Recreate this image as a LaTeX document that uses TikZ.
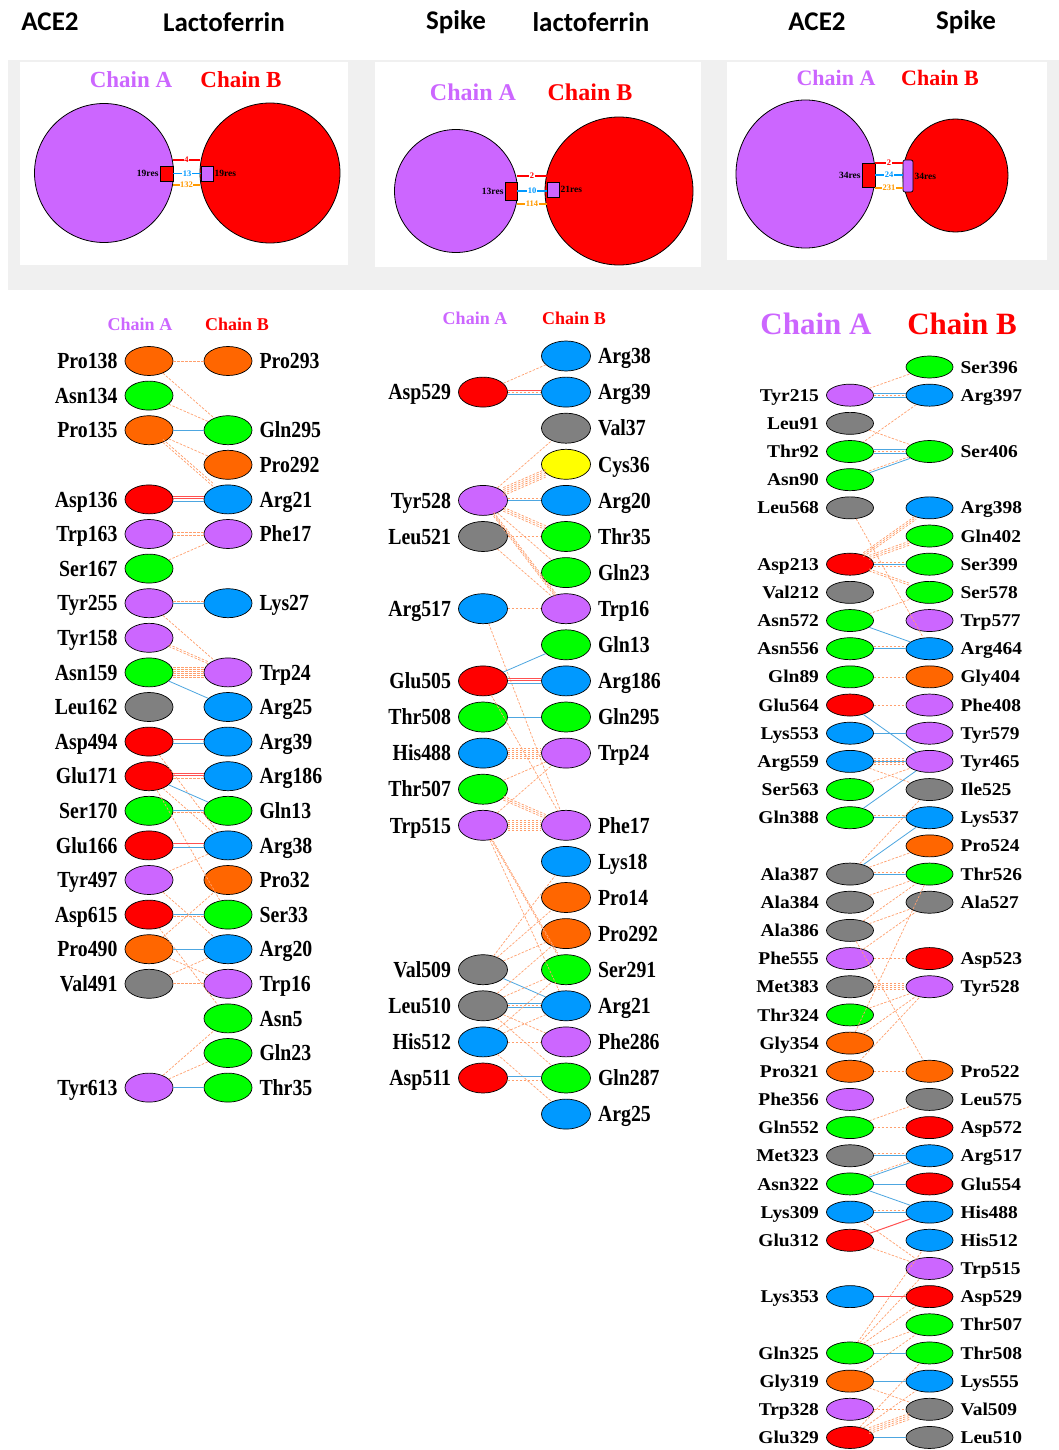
\documentclass[tikz,border=0pt]{standalone}
\usepackage{fontspec}
\setmainfont{Liberation Serif}
\newfontfamily\hdfont{Carlito}
\newfontfamily\labA[FakeStretch=0.86]{Liberation Serif}
\newfontfamily\labC[FakeStretch=1.08]{Liberation Serif}
\usetikzlibrary{shapes.geometric}

\definecolor{rpur}{HTML}{CC66FF}
\definecolor{rorg}{HTML}{FF6600}
\definecolor{rgrn}{HTML}{00FF00}
\definecolor{rblu}{HTML}{0099FF}
\definecolor{rred}{HTML}{FF0000}
\definecolor{rgry}{HTML}{808080}
\definecolor{ryel}{HTML}{FFFF00}
\definecolor{lnb}{HTML}{FFA06E}
\definecolor{lhb}{HTML}{4DA6E0}
\definecolor{lsb}{HTML}{FF5050}
\definecolor{bandgray}{HTML}{F0F0F0}
\definecolor{lorg}{HTML}{FF9900}

\tikzset{
  ea/.style={ellipse, draw=black, line width=0.7pt, minimum width=48pt, minimum height=29pt, inner sep=0pt},
  eb/.style={ellipse, draw=black, line width=0.7pt, minimum width=49pt, minimum height=30pt, inner sep=0pt},
  ec/.style={ellipse, draw=black, line width=0.7pt, minimum width=47pt, minimum height=22pt, inner sep=0pt},
  ta/.style={font=\labA\bfseries\fontsize{23}{23}\selectfont, inner sep=0pt, text height=15.5pt, text depth=0pt},
  tc/.style={font=\labC\bfseries\fontsize{18}{18}\selectfont, inner sep=0pt, text height=12.2pt, text depth=0pt},
  nbl/.style={draw=lnb, dashed, dash pattern=on 2.5pt off 1.5pt, line width=0.7pt},
  hbl/.style={draw=lhb, line width=0.8pt},
  sbl/.style={draw=lsb, line width=1pt},
  hdr/.style={font=\hdfont\bfseries\fontsize{27}{27}\selectfont, inner sep=0pt},
  chA/.style={text=rpur, inner sep=0pt, font=\bfseries\fontsize{#1}{#1}\selectfont},
  chB/.style={text=rred, inner sep=0pt, font=\bfseries\fontsize{#1}{#1}\selectfont},
  big/.style={draw=black, line width=0.8pt, inner sep=0pt},
  patch/.style={draw=black, line width=0.7pt, inner sep=0pt},
  restx/.style={font=\bfseries\fontsize{9.5}{9.5}\selectfont, inner sep=1pt, text=black},
  cnt/.style={font=\bfseries\fontsize{8.5}{8.5}\selectfont, inner sep=0.5pt, fill=white},
}

% residues of the three contact maps: name, row, fill
\newcommand\resAL[3]{\node[ea,fill=#3] (a-#1) at (149,{361+34.6*#2}) {};\node[ta,anchor=east] (a-#1-t) at ([xshift=-7pt]a-#1.west) {#1};}
\newcommand\resAR[3]{\node[ea,fill=#3] (a-#1) at (228,{361+34.6*#2}) {};\node[ta,anchor=west] (a-#1-t) at ([xshift=7pt]a-#1.east) {#1};}
\newcommand\resBL[3]{\node[eb,fill=#3] (b-#1) at (483,{356+36.1*#2}) {};\node[ta,anchor=east] (b-#1-t) at ([xshift=-7pt]b-#1.west) {#1};}
\newcommand\resBR[3]{\node[eb,fill=#3] (b-#1) at (566,{356+36.1*#2}) {};\node[ta,anchor=west] (b-#1-t) at ([xshift=7pt]b-#1.east) {#1};}
\newcommand\resCL[3]{\node[ec,fill=#3] (c-#1) at (850,{367+28.17*#2}) {};\node[tc,anchor=east] (c-#1-t) at ([xshift=-7pt]c-#1.west) {#1};}
\newcommand\resCR[3]{\node[ec,fill=#3] (c-#1) at (929.5,{367+28.17*#2}) {};\node[tc,anchor=west] (c-#1-t) at ([xshift=7pt]c-#1.east) {#1};}

% contacts: non-bonded, hydrogen bond, salt bridge, and parallel bundles
\newcommand\cnb[2]{\draw[nbl] (#1) -- (#2);}
\newcommand\chb[2]{\draw[hbl] (#1) -- (#2);}
\newcommand\csb[2]{\draw[sbl] (#1) -- (#2);}
\newcommand\cmany[4]{\foreach \sh in {#4}{\draw[#1,transform canvas={yshift=\sh pt}] (#2) -- (#3);}}

\begin{document}
\begin{tikzpicture}[x=1pt,y=-1pt]
\useasboundingbox (0,0) rectangle (1059,1450);
\fill[white] (0,0) rectangle (1059,1450);

% ---- titles
\node[hdr] (h1) at (50,22) {ACE2};
\node[hdr] (h2) at (224,22) {Lactoferrin};
\node[hdr] (h3) at (456,22) {Spike};
\node[hdr] (h4) at (591,22) {lactoferrin};
\node[hdr] (h5) at (817,22) {ACE2};
\node[hdr] (h6) at (966,22) {Spike};

% ---- interface summary panels
\fill[bandgray] (8,60) rectangle (1059,290);
\fill[white] (20,62) rectangle (348,265);
\fill[white] (375,62) rectangle (701,267);
\fill[white] (727,62) rectangle (1047,260);

% panel 1
\node[chA=23] (p1hA) at (131,80) {Chain A};
\node[chB=23] (p1hB) at (241,80) {Chain B};
\node[big,circle,fill=rpur,minimum size=139pt] (p1A) at (104,173) {};
\node[big,circle,fill=rred,minimum size=140pt] (p1B) at (270,173) {};
\node[patch,fill=rred,minimum width=13pt,minimum height=15pt] (p1a) at (166.5,173.5) {};
\node[patch,fill=rpur,minimum width=12pt,minimum height=15pt] (p1b) at (207,173.5) {};
\node[restx,anchor=east] (p1at) at (p1a.west) {19res};
\node[restx,anchor=west] (p1bt) at (p1b.east) {19res};
\draw[rred,line width=1.1pt] (173,160) -- node[cnt,text=rred] (p1n1) {4} (200,160);
\draw[rblu,line width=1.1pt] (p1a.east) -- node[cnt,text=rblu] (p1n2) {13} (p1b.west);
\draw[lorg,line width=1.1pt] (173,185) -- node[cnt,text=lorg] (p1n3) {132} (200,185);

% panel 2
\node[chA=24] (p2hA) at (473,92) {Chain A};
\node[chB=24] (p2hB) at (590,92) {Chain B};
\node[big,circle,fill=rpur,minimum size=123pt] (p2A) at (456,191) {};
\node[big,circle,fill=rred,minimum size=148pt] (p2B) at (619,191) {};
\node[patch,fill=rred,minimum width=12pt,minimum height=18pt] (p2a) at (511,191) {};
\node[patch,fill=rpur,minimum width=12pt,minimum height=15pt] (p2b) at (553,189.5) {};
\node[restx,anchor=east] (p2at) at (p2a.west) {13res};
\node[restx,anchor=west] (p2bt) at (p2b.east) {21res};
\draw[rred,line width=1.1pt] (517,176) -- node[cnt,text=rred] (p2n1) {2} (547,176);
\draw[rblu,line width=1.1pt] (517,191) -- node[cnt,text=rblu] (p2n2) {10} (547,191);
\draw[lorg,line width=1.1pt] (517,204) -- node[cnt,text=lorg] (p2n3) {114} (547,204);

% panel 3
\node[chA=22] (p3hA) at (836,78) {Chain A};
\node[chB=22] (p3hB) at (940,78) {Chain B};
\node[big,ellipse,fill=rpur,minimum width=139pt,minimum height=148pt] (p3A) at (805.5,174) {};
\node[big,ellipse,fill=rred,minimum width=105pt,minimum height=113pt] (p3B) at (955.5,175.5) {};
\node[patch,fill=rred,minimum width=13pt,minimum height=24pt] (p3a) at (868.5,175) {};
\node[patch,fill=rpur,minimum width=10pt,minimum height=32pt,rounded corners=2pt] (p3b) at (908,176) {};
\node[restx,anchor=east] (p3at) at (p3a.west) {34res};
\node[restx,anchor=west] (p3bt) at (p3b.east) {34res};
\draw[rred,line width=1.1pt] (875,163) -- node[cnt,text=rred] (p3n1) {2} (903,163);
\draw[rblu,line width=1.1pt] (875,175) -- node[cnt,text=rblu] (p3n2) {24} (903,175);
\draw[lorg,line width=1.1pt] (875,188) -- node[cnt,text=lorg] (p3n3) {231} (903,188);

% ---- contact map 1: ACE2 / Lactoferrin
\node[chA=18] (a-hA) at (140,324) {Chain A};
\node[chB=18] (a-hB) at (237,324) {Chain B};
\resAL{Pro138}{0}{rorg}
\resAL{Asn134}{1}{rgrn}
\resAL{Pro135}{2}{rorg}
\resAL{Asp136}{4}{rred}
\resAL{Trp163}{5}{rpur}
\resAL{Ser167}{6}{rgrn}
\resAL{Tyr255}{7}{rpur}
\resAL{Tyr158}{8}{rpur}
\resAL{Asn159}{9}{rgrn}
\resAL{Leu162}{10}{rgry}
\resAL{Asp494}{11}{rred}
\resAL{Glu171}{12}{rred}
\resAL{Ser170}{13}{rgrn}
\resAL{Glu166}{14}{rred}
\resAL{Tyr497}{15}{rpur}
\resAL{Asp615}{16}{rred}
\resAL{Pro490}{17}{rorg}
\resAL{Val491}{18}{rgry}
\resAL{Tyr613}{21}{rpur}
\resAR{Pro293}{0}{rorg}
\resAR{Gln295}{2}{rgrn}
\resAR{Pro292}{3}{rorg}
\resAR{Arg21}{4}{rblu}
\resAR{Phe17}{5}{rpur}
\resAR{Lys27}{7}{rblu}
\resAR{Trp24}{9}{rpur}
\resAR{Arg25}{10}{rblu}
\resAR{Arg39}{11}{rblu}
\resAR{Arg186}{12}{rblu}
\resAR{Gln13}{13}{rgrn}
\resAR{Arg38}{14}{rblu}
\resAR{Pro32}{15}{rorg}
\resAR{Ser33}{16}{rgrn}
\resAR{Arg20}{17}{rblu}
\resAR{Trp16}{18}{rpur}
\resAR{Asn5}{19}{rgrn}
\resAR{Gln23}{20}{rgrn}
\resAR{Thr35}{21}{rgrn}

\cnb{a-Pro138}{a-Pro293}
\cnb{a-Pro138}{a-Gln295}
\cnb{a-Asn134}{a-Gln295}
\chb{a-Pro135}{a-Gln295}
\cnb{a-Pro135}{a-Pro292}
\cmany{nbl}{a-Pro135}{a-Arg21}{0,3}
\cmany{sbl}{a-Asp136}{a-Arg21}{3,1}
\cmany{hbl}{a-Asp136}{a-Arg21}{-2}
\cmany{nbl}{a-Trp163}{a-Phe17}{-1.5,1.5}
\cnb{a-Ser167}{a-Phe17}
\chb{a-Tyr255}{a-Lys27}
\cmany{nbl}{a-Tyr255}{a-Lys27}{2}
\cnb{a-Tyr255}{a-Trp24}
\cmany{nbl}{a-Tyr158}{a-Trp24}{0,2}
\cmany{nbl}{a-Asn159}{a-Trp24}{-5,-3,-1,1,3,5}
\chb{a-Asn159}{a-Arg25}
\cmany{sbl}{a-Asp494}{a-Arg39}{2}
\cmany{hbl}{a-Asp494}{a-Arg39}{-2}
\cnb{a-Asp494}{a-Arg38}
\cmany{sbl}{a-Glu171}{a-Arg186}{1,3}
\cmany{nbl}{a-Glu171}{a-Arg186}{-2}
\chb{a-Glu171}{a-Gln13}
\cnb{a-Glu171}{a-Arg38}
\cnb{a-Glu171}{a-Ser33}
\chb{a-Ser170}{a-Gln13}
\cmany{nbl}{a-Ser170}{a-Gln13}{-2}
\cmany{sbl}{a-Glu166}{a-Arg38}{2}
\cmany{hbl}{a-Glu166}{a-Arg38}{-2}
\cnb{a-Tyr497}{a-Arg38}
\cnb{a-Tyr497}{a-Arg20}
\chb{a-Asp615}{a-Ser33}
\cmany{nbl}{a-Asp615}{a-Ser33}{-2}
\cnb{a-Asp615}{a-Asn5}
\chb{a-Pro490}{a-Arg20}
\cnb{a-Pro490}{a-Pro32}
\cnb{a-Pro490}{a-Trp16}
\cnb{a-Val491}{a-Trp16}
\cnb{a-Val491}{a-Arg20}
\chb{a-Tyr613}{a-Thr35}
\cnb{a-Tyr613}{a-Gln23}
\cnb{a-Tyr613}{a-Asn5}

% ---- contact map 2: Spike / lactoferrin
\node[chA=18] (b-hA) at (475,318) {Chain A};
\node[chB=18] (b-hB) at (574,318) {Chain B};
\resBL{Asp529}{1}{rred}
\resBL{Tyr528}{4}{rpur}
\resBL{Leu521}{5}{rgry}
\resBL{Arg517}{7}{rblu}
\resBL{Glu505}{9}{rred}
\resBL{Thr508}{10}{rgrn}
\resBL{His488}{11}{rblu}
\resBL{Thr507}{12}{rgrn}
\resBL{Trp515}{13}{rpur}
\resBL{Val509}{17}{rgry}
\resBL{Leu510}{18}{rgry}
\resBL{His512}{19}{rblu}
\resBL{Asp511}{20}{rred}
\resBR{Arg38}{0}{rblu}
\resBR{Arg39}{1}{rblu}
\resBR{Val37}{2}{rgry}
\resBR{Cys36}{3}{ryel}
\resBR{Arg20}{4}{rblu}
\resBR{Thr35}{5}{rgrn}
\resBR{Gln23}{6}{rgrn}
\resBR{Trp16}{7}{rpur}
\resBR{Gln13}{8}{rgrn}
\resBR{Arg186}{9}{rblu}
\resBR{Gln295}{10}{rgrn}
\resBR{Trp24}{11}{rpur}
\resBR{Phe17}{13}{rpur}
\resBR{Lys18}{14}{rblu}
\resBR{Pro14}{15}{rorg}
\resBR{Pro292}{16}{rorg}
\resBR{Ser291}{17}{rgrn}
\resBR{Arg21}{18}{rblu}
\resBR{Phe286}{19}{rpur}
\resBR{Gln287}{20}{rgrn}
\resBR{Arg25}{21}{rblu}

\cnb{b-Asp529}{b-Arg38}
\cmany{sbl}{b-Asp529}{b-Arg39}{2}
\cmany{hbl}{b-Asp529}{b-Arg39}{-2}
\cnb{b-Asp529}{b-Arg39}
\cnb{b-Tyr528}{b-Val37}
\cmany{nbl}{b-Tyr528}{b-Cys36}{-4,-2,0,2,4}
\chb{b-Tyr528}{b-Arg20}
\cmany{nbl}{b-Tyr528}{b-Arg20}{2}
\cmany{nbl}{b-Tyr528}{b-Thr35}{-2,0,2}
\cnb{b-Tyr528}{b-Gln23}
\cmany{nbl}{b-Tyr528}{b-Trp16}{-2,0,2}
\cnb{b-Leu521}{b-Trp16}
\cnb{b-Leu521}{b-Thr35}
\cnb{b-Arg517}{b-Trp16}
\cnb{b-Arg517}{b-Phe17}
\chb{b-Glu505}{b-Gln13}
\cmany{sbl}{b-Glu505}{b-Arg186}{2,0}
\cmany{hbl}{b-Glu505}{b-Arg186}{-2}
\cnb{b-Glu505}{b-Phe17}
\chb{b-Thr508}{b-Gln295}
\cmany{nbl}{b-His488}{b-Trp24}{-5,-3,-1,1,3,5}
\cnb{b-Thr507}{b-Trp24}
\cmany{nbl}{b-Thr507}{b-Phe17}{-2,0,2}
\cnb{b-Trp515}{b-Trp24}
\cmany{nbl}{b-Trp515}{b-Phe17}{-5,-3,-1,1,3,5}
\cmany{nbl}{b-Trp515}{b-Ser291}{0,2}
\cnb{b-Trp515}{b-Arg21}
\cnb{b-Val509}{b-Lys18}
\cnb{b-Val509}{b-Pro14}
\cnb{b-Val509}{b-Pro292}
\chb{b-Val509}{b-Arg21}
\cmany{hbl}{b-Leu510}{b-Arg21}{-2,2}
\cnb{b-Leu510}{b-Arg21}
\cnb{b-Leu510}{b-Ser291}
\cnb{b-Leu510}{b-Pro292}
\cnb{b-Leu510}{b-Phe286}
\cnb{b-Leu510}{b-Gln287}
\cnb{b-His512}{b-Arg21}
\cnb{b-His512}{b-Ser291}
\cnb{b-His512}{b-Phe286}
\cnb{b-His512}{b-Arg25}
\cmany{hbl}{b-Asp511}{b-Gln287}{2}
\cmany{nbl}{b-Asp511}{b-Gln287}{-2}

% ---- contact map 3: ACE2 / Spike
\node[chA=31] (c-hA) at (816,324) {Chain A};
\node[chB=31] (c-hB) at (962,324) {Chain B};
\resCR{Ser396}{0}{rgrn}
\resCL{Tyr215}{1}{rpur}
\resCR{Arg397}{1}{rblu}
\resCL{Leu91}{2}{rgry}
\resCL{Thr92}{3}{rgrn}
\resCR{Ser406}{3}{rgrn}
\resCL{Asn90}{4}{rgrn}
\resCL{Leu568}{5}{rgry}
\resCR{Arg398}{5}{rblu}
\resCR{Gln402}{6}{rgrn}
\resCL{Asp213}{7}{rred}
\resCR{Ser399}{7}{rgrn}
\resCL{Val212}{8}{rgry}
\resCR{Ser578}{8}{rgrn}
\resCL{Asn572}{9}{rgrn}
\resCR{Trp577}{9}{rpur}
\resCL{Asn556}{10}{rgrn}
\resCR{Arg464}{10}{rblu}
\resCL{Gln89}{11}{rgrn}
\resCR{Gly404}{11}{rorg}
\resCL{Glu564}{12}{rred}
\resCR{Phe408}{12}{rpur}
\resCL{Lys553}{13}{rblu}
\resCR{Tyr579}{13}{rpur}
\resCL{Arg559}{14}{rblu}
\resCR{Tyr465}{14}{rpur}
\resCL{Ser563}{15}{rgrn}
\resCR{Ile525}{15}{rgry}
\resCL{Gln388}{16}{rgrn}
\resCR{Lys537}{16}{rblu}
\resCR{Pro524}{17}{rorg}
\resCL{Ala387}{18}{rgry}
\resCR{Thr526}{18}{rgrn}
\resCL{Ala384}{19}{rgry}
\resCR{Ala527}{19}{rgry}
\resCL{Ala386}{20}{rgry}
\resCL{Phe555}{21}{rpur}
\resCR{Asp523}{21}{rred}
\resCL{Met383}{22}{rgry}
\resCR{Tyr528}{22}{rpur}
\resCL{Thr324}{23}{rgrn}
\resCL{Gly354}{24}{rorg}
\resCL{Pro321}{25}{rorg}
\resCR{Pro522}{25}{rorg}
\resCL{Phe356}{26}{rpur}
\resCR{Leu575}{26}{rgry}
\resCL{Gln552}{27}{rgrn}
\resCR{Asp572}{27}{rred}
\resCL{Met323}{28}{rgry}
\resCR{Arg517}{28}{rblu}
\resCL{Asn322}{29}{rgrn}
\resCR{Glu554}{29}{rred}
\resCL{Lys309}{30}{rblu}
\resCR{His488}{30}{rblu}
\resCL{Glu312}{31}{rred}
\resCR{His512}{31}{rblu}
\resCR{Trp515}{32}{rpur}
\resCL{Lys353}{33}{rblu}
\resCR{Asp529}{33}{rred}
\resCR{Thr507}{34}{rgrn}
\resCL{Gln325}{35}{rgrn}
\resCR{Thr508}{35}{rgrn}
\resCL{Gly319}{36}{rorg}
\resCR{Lys555}{36}{rblu}
\resCL{Trp328}{37}{rpur}
\resCR{Val509}{37}{rgry}
\resCL{Glu329}{38}{rred}
\resCR{Leu510}{38}{rgry}

\cnb{c-Tyr215}{c-Ser396}
\cmany{hbl}{c-Tyr215}{c-Arg397}{-2,2}
\cnb{c-Tyr215}{c-Arg397}
\cnb{c-Arg397}{c-Thr92}
\cnb{c-Leu91}{c-Ser406}
\cmany{hbl}{c-Thr92}{c-Ser406}{-2,2}
\cnb{c-Thr92}{c-Ser406}
\chb{c-Asn90}{c-Ser406}
\cmany{nbl}{c-Asn90}{c-Ser406}{2}
\cnb{c-Leu568}{c-Arg464}
\cmany{nbl}{c-Asp213}{c-Arg398}{-2,0,2}
\cmany{nbl}{c-Asp213}{c-Gln402}{-2,0,2}
\chb{c-Asp213}{c-Ser399}
\cmany{nbl}{c-Asp213}{c-Ser399}{-2,2}
\cmany{nbl}{c-Asp213}{c-Ser578}{0,2}
\cnb{c-Asn572}{c-Ser578}
\chb{c-Asn572}{c-Arg464}
\chb{c-Asn556}{c-Arg464}
\cmany{nbl}{c-Asn556}{c-Arg464}{2}
\cnb{c-Gln89}{c-Gly404}
\cnb{c-Glu564}{c-Phe408}
\chb{c-Glu564}{c-Tyr465}
\chb{c-Lys553}{c-Tyr579}
\chb{c-Arg559}{c-Tyr465}
\cmany{nbl}{c-Arg559}{c-Tyr465}{-3,-1,1,3}
\cnb{c-Arg559}{c-Ile525}
\cnb{c-Ser563}{c-Tyr465}
\chb{c-Gln388}{c-Tyr465}
\chb{c-Gln388}{c-Lys537}
\cmany{nbl}{c-Gln388}{c-Lys537}{2}
\chb{c-Ala387}{c-Lys537}
\cnb{c-Ala387}{c-Ile525}
\cnb{c-Ala387}{c-Pro524}
\chb{c-Ala387}{c-Thr526}
\cmany{nbl}{c-Ala387}{c-Thr526}{2}
\cnb{c-Ala384}{c-Thr526}
\cnb{c-Ala386}{c-Thr526}
\cnb{c-Ala386}{c-Ala527}
\cnb{c-Ala386}{c-Pro522}
\cnb{c-Phe555}{c-Asp523}
\cnb{c-Phe555}{c-Ala527}
\cmany{nbl}{c-Met383}{c-Tyr528}{-3,-1,1,3}
\cnb{c-Thr324}{c-Tyr528}
\cnb{c-Gly354}{c-Tyr528}
\cnb{c-Gly354}{c-Thr526}
\cnb{c-Pro321}{c-Tyr528}
\cnb{c-Pro321}{c-Pro522}
\cnb{c-Gln552}{c-Leu575}
\cnb{c-Gln552}{c-Asp572}
\chb{c-Met323}{c-Arg517}
\cmany{nbl}{c-Met323}{c-Arg517}{2}
\chb{c-Asn322}{c-Arg517}
\cmany{nbl}{c-Asn322}{c-Arg517}{2}
\chb{c-Asn322}{c-Glu554}
\chb{c-Asn322}{c-His488}
\chb{c-Lys309}{c-His488}
\cmany{nbl}{c-Lys309}{c-His488}{2}
\cnb{c-Lys309}{c-Trp515}
\csb{c-Glu312}{c-His488}
\cnb{c-Glu312}{c-Trp515}
\csb{c-Lys353}{c-Asp529}
\cnb{c-Gln325}{c-His512}
\cnb{c-Gln325}{c-Trp515}
\cnb{c-Gln325}{c-Asp529}
\cnb{c-Gln325}{c-Thr507}
\chb{c-Gln325}{c-Thr508}
\chb{c-Gly319}{c-Lys555}
\cnb{c-Gly319}{c-Thr507}
\cnb{c-Gly319}{c-Val509}
\cnb{c-Trp328}{c-Val509}
\chb{c-Glu329}{c-Leu510}
\cmany{nbl}{c-Glu329}{c-Val509}{-3,-1,1,3}
\cnb{c-Glu329}{c-Lys555}
\cnb{c-Glu329}{c-Thr508}
\end{tikzpicture}
\end{document}
